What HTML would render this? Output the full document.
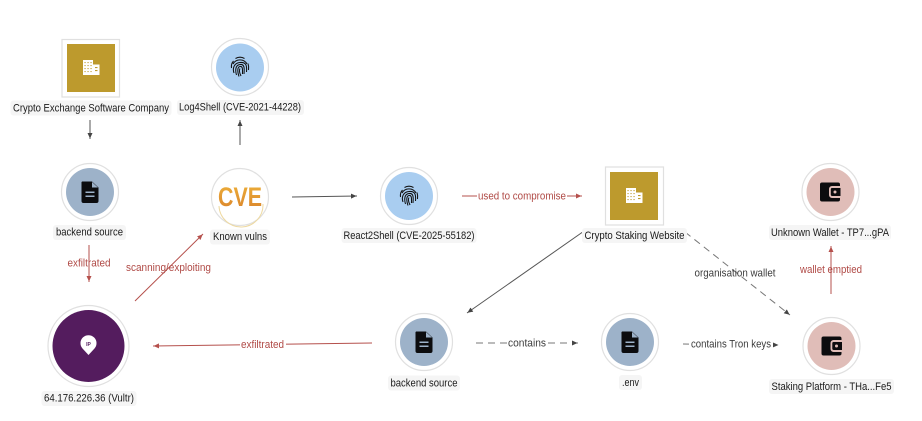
<!DOCTYPE html>
<html><head><meta charset="utf-8">
<style>
html,body{margin:0;padding:0;background:#fff;width:922px;height:421px;overflow:hidden}
svg{display:block;filter:blur(.35px)}
text{font-family:"Liberation Sans",sans-serif;font-size:11px}
.n{fill:#1a1a1a;text-anchor:middle}
.g{fill:#3c3c3c;text-anchor:middle}
.r{fill:#b04a46;text-anchor:middle}
.lb{fill:#f5f5f5}
.ring{fill:#fff;stroke:#e0e0e0;stroke-width:1.2}
.d{stroke:#555;stroke-width:1;fill:none}
.dd{stroke:#777;stroke-width:1;fill:none}
.rd{stroke:#b5504c;stroke-width:1;fill:none}
.bg{fill:#fff}
</style></head><body>
<svg width="922" height="421" viewBox="0 0 922 421" xmlns="http://www.w3.org/2000/svg">
<defs>
<linearGradient id="cv" x1="0" y1="0" x2="0" y2="1"><stop offset="0" stop-color="#eeb13a"/><stop offset="1" stop-color="#d9822b"/></linearGradient>
<marker id="a" markerWidth="7" markerHeight="7" refX="6" refY="3" orient="auto" markerUnits="userSpaceOnUse"><path d="M0 0.5L5.500 3L0 5.500z" fill="#444"/></marker>
<marker id="ar" markerWidth="7" markerHeight="7" refX="6" refY="3" orient="auto" markerUnits="userSpaceOnUse"><path d="M0 0.5L5.500 3L0 5.500z" fill="#b5504c"/></marker>
<g id="bld"><path d="M-8-8h10v15h-10zM2-3.500h6.500V7h-6.500z" fill="#fff"/><g fill="#bd9a2d"><rect x="-6.500" y="-6" width="1.100" height="1.100"/><rect x="-3.500" y="-6" width="1.100" height="1.100"/><rect x="-.5" y="-6" width="1.100" height="1.100"/><rect x="-6.500" y="-3" width="1.100" height="1.100"/><rect x="-3.500" y="-3" width="1.100" height="1.100"/><rect x="-.5" y="-3" width="1.100" height="1.100"/><rect x="-6.500" y="0" width="1.100" height="1.100"/><rect x="-3.500" y="0" width="1.100" height="1.100"/><rect x="-.5" y="0" width="1.100" height="1.100"/><rect x="-6.500" y="3" width="1.100" height="1.100"/><rect x="-3.500" y="3" width="1.100" height="1.100"/><rect x="-.5" y="3" width="1.100" height="1.100"/><rect x="4" y="-1" width="2.500" height="1.100"/><rect x="4" y="2" width="2.500" height="1.100"/></g></g>
<g id="doc"><path d="M-8-10.500H2L8.500-4.500V9a2 2 0 0 1-2 2H-6.500a2 2 0 0 1-2-2V-8.500a2 2 0 0 1 .5-2z" fill="#0c0c0e"/><path d="M2-10V-4.500H8z" fill="#9db2c9"/><rect x="-4.500" y="-.5" width="9" height="1.500" fill="#9db2c9"/><rect x="-4.500" y="3.500" width="9" height="1.500" fill="#9db2c9"/></g>
<g id="fp" fill="none" stroke="#111" stroke-width="1.050"><path d="M-7-3A8 8 0 0 1 7-3"/><path d="M-8.500 1A8.500 8.500 0 0 1-6.500-6"/><path d="M-6 6C-7.500 2-6.500-4 0-4.500S7-1 6.500 5"/><path d="M-3.500 8C-5 3-4.500-2 0-2.500S4.500 1 4 7"/><path d="M-1 9.500C-2.500 5-3 0 0-.5S2.500 3 2.500 7"/><path d="M1 9C-.5 6-1 3 0 1.500"/><path d="M8.500 3C9 0 8.500-2 8-3.500"/><path d="M-4.500-8.500A9 9 0 0 1 4.500-8.500"/></g>
<g id="wal"><path d="M-8-9.500H8a2 2 0 0 1 2 2V-6H2a3 3 0 0 0-3 3V3a3 3 0 0 0 3 3h8V7.500a2 2 0 0 1-2 2H-8a2 2 0 0 1-2-2V-7.500a2 2 0 0 1 2-2z" fill="#0c0c0e"/><path d="M2-4h8.500V4H2a1.200 1.200 0 0 1-1.200-1.200V-2.800A1.200 1.200 0 0 1 2-4z" fill="#0c0c0e"/><circle cx="5" cy="0" r="1.500" fill="#e0bdb8"/></g>
</defs>

<!-- edges -->
<path class="d" d="M90 120V139" marker-end="url(#a)"/>
<path class="d" d="M240 145V120" marker-end="url(#a)"/>
<path class="d" d="M292 197L357 196" marker-end="url(#a)"/>
<path class="rd" d="M462 196H582" marker-end="url(#ar)"/>
<path class="d" d="M587 229L467 313" marker-end="url(#a)"/>
<path class="dd" stroke-dasharray="7 5" d="M685 232L790 315" marker-end="url(#a)"/>
<path class="rd" d="M831 294V246" marker-end="url(#ar)"/>
<path class="rd" d="M89 245V282" marker-end="url(#ar)"/>
<path class="rd" d="M135 301L203 234" marker-end="url(#ar)"/>
<path class="rd" d="M372 343L153 346" marker-end="url(#ar)"/>
<path class="dd" stroke-dasharray="7 5" d="M476 343H578" marker-end="url(#a)"/>
<path class="dd" stroke-dasharray="7 5" d="M683 344L779 345" marker-end="url(#a)"/>

<!-- edge labels -->
<rect class="bg" x="477" y="190" width="90" height="12"/>
<text class="r" x="522" y="199.500" textLength="88" lengthAdjust="spacingAndGlyphs">used to compromise</text>
<text class="r" x="89" y="266.500" textLength="43" lengthAdjust="spacingAndGlyphs">exfiltrated</text>
<text class="r" x="168.500" y="271" textLength="85" lengthAdjust="spacingAndGlyphs">scanning/exploiting</text>
<rect class="bg" x="240" y="338" width="46" height="12"/>
<text class="r" x="262.500" y="348" textLength="43" lengthAdjust="spacingAndGlyphs">exfiltrated</text>
<rect class="bg" x="507" y="337" width="41" height="12"/>
<text class="g" x="527" y="346.500" textLength="38" lengthAdjust="spacingAndGlyphs">contains</text>
<rect class="bg" x="689" y="338" width="84" height="12"/>
<text class="g" x="731" y="347.500" textLength="80" lengthAdjust="spacingAndGlyphs">contains Tron keys</text>
<text class="g" x="735" y="276.500" textLength="81" lengthAdjust="spacingAndGlyphs">organisation wallet</text>
<text class="r" x="831" y="273" textLength="62" lengthAdjust="spacingAndGlyphs">wallet emptied</text>

<!-- company -->
<rect x="62" y="39.500" width="57.500" height="57.500" fill="#fff" stroke="#e0e0e0" stroke-width="1.200"/>
<rect x="67" y="44" width="48" height="48" fill="#bd9a2d"/>
<use href="#bld" x="91" y="68"/>
<rect class="lb" x="10.500" y="100.500" width="161" height="15" rx="3"/>
<text class="n" x="91" y="111.500" textLength="156" lengthAdjust="spacingAndGlyphs">Crypto Exchange Software Company</text>

<!-- log4shell -->
<circle class="ring" cx="240" cy="67" r="28.500"/><circle cx="240" cy="67.500" r="24" fill="#a9cdf0"/>
<use href="#fp" x="240" y="67"/>
<rect class="lb" x="177" y="100" width="127" height="15" rx="3"/>
<text class="n" x="240" y="110.500" textLength="122" lengthAdjust="spacingAndGlyphs">Log4Shell (CVE-2021-44228)</text>

<!-- backend source 1 -->
<circle class="ring" cx="90" cy="192" r="28.500"/><circle cx="90" cy="192" r="24" fill="#9db2c9"/>
<use href="#doc" x="90" y="192"/>
<rect class="lb" x="53" y="225" width="73" height="15" rx="3"/>
<text class="n" x="89.500" y="235.500" textLength="67" lengthAdjust="spacingAndGlyphs">backend source</text>

<!-- known vulns -->
<circle class="ring" cx="240" cy="197" r="28.500"/>
<path d="M219 206A22 22 0 0 0 263 204" fill="none" stroke="#eed9a0" stroke-width="1"/>
<text x="240" y="206" text-anchor="middle" style="font-size:27px;font-weight:bold;fill:url(#cv)" textLength="44" lengthAdjust="spacingAndGlyphs">CVE</text>
<rect class="lb" x="210" y="229.500" width="60" height="15" rx="3"/>
<text class="n" x="240" y="240" textLength="54" lengthAdjust="spacingAndGlyphs">Known vulns</text>

<!-- IP -->
<circle class="ring" cx="88.500" cy="346" r="40.500"/><circle cx="88.500" cy="346" r="36" fill="#541c5e"/>
<path d="M88.500 355L82.500 348.500A8 8 0 1 1 94.500 348.500Z" fill="#fff"/>
<text x="88.500" y="346" text-anchor="middle" style="font-size:5px;font-weight:bold;fill:#541c5e">IP</text>
<rect class="lb" x="41.500" y="391" width="95" height="15" rx="3"/>
<text class="n" x="89" y="401.500" textLength="90" lengthAdjust="spacingAndGlyphs">64.176.226.36 (Vultr)</text>

<!-- React2Shell -->
<circle class="ring" cx="409" cy="196" r="28.500"/><circle cx="409" cy="196" r="24" fill="#a9cdf0"/>
<use href="#fp" x="409" y="196"/>
<rect class="lb" x="341.500" y="228" width="135" height="15" rx="3"/>
<text class="n" x="409" y="239" textLength="131" lengthAdjust="spacingAndGlyphs">React2Shell (CVE-2025-55182)</text>

<!-- staking website -->
<rect x="605.500" y="167" width="58" height="58" fill="#fff" stroke="#e0e0e0" stroke-width="1.200"/>
<rect x="610" y="172" width="48" height="48" fill="#bd9a2d"/>
<use href="#bld" x="634" y="196"/>
<rect class="lb" x="582" y="228" width="105" height="15" rx="3"/>
<text class="n" x="634.500" y="239" textLength="100" lengthAdjust="spacingAndGlyphs">Crypto Staking Website</text>

<!-- backend source 2 -->
<circle class="ring" cx="424" cy="342" r="28.500"/><circle cx="424" cy="342" r="24" fill="#9db2c9"/>
<use href="#doc" x="424" y="342"/>
<rect class="lb" x="388" y="375.500" width="72" height="15" rx="3"/>
<text class="n" x="424" y="386.500" textLength="67" lengthAdjust="spacingAndGlyphs">backend source</text>

<!-- env -->
<circle class="ring" cx="630" cy="342" r="28.500"/><circle cx="630" cy="342" r="24" fill="#9db2c9"/>
<use href="#doc" x="630" y="342"/>
<rect class="lb" x="619" y="375" width="23" height="15" rx="3"/>
<text class="n" x="630.500" y="386" textLength="17" lengthAdjust="spacingAndGlyphs">.env</text>

<!-- unknown wallet -->
<circle class="ring" cx="830.500" cy="192" r="28.500"/><circle cx="830.500" cy="192" r="24" fill="#e0bdb8"/>
<use href="#wal" x="830" y="192"/>
<rect class="lb" x="769" y="225" width="122" height="15" rx="3"/>
<text class="n" x="830" y="236" textLength="118" lengthAdjust="spacingAndGlyphs">Unknown Wallet - TP7...gPA</text>

<!-- staking platform -->
<circle class="ring" cx="831.500" cy="346" r="28.500"/><circle cx="831.500" cy="346" r="24" fill="#e0bdb8"/>
<use href="#wal" x="831.500" y="346"/>
<rect class="lb" x="769" y="379" width="125" height="15" rx="3"/>
<text class="n" x="831.500" y="390" textLength="120" lengthAdjust="spacingAndGlyphs">Staking Platform - THa...Fe5</text>
</svg>
</body></html>
